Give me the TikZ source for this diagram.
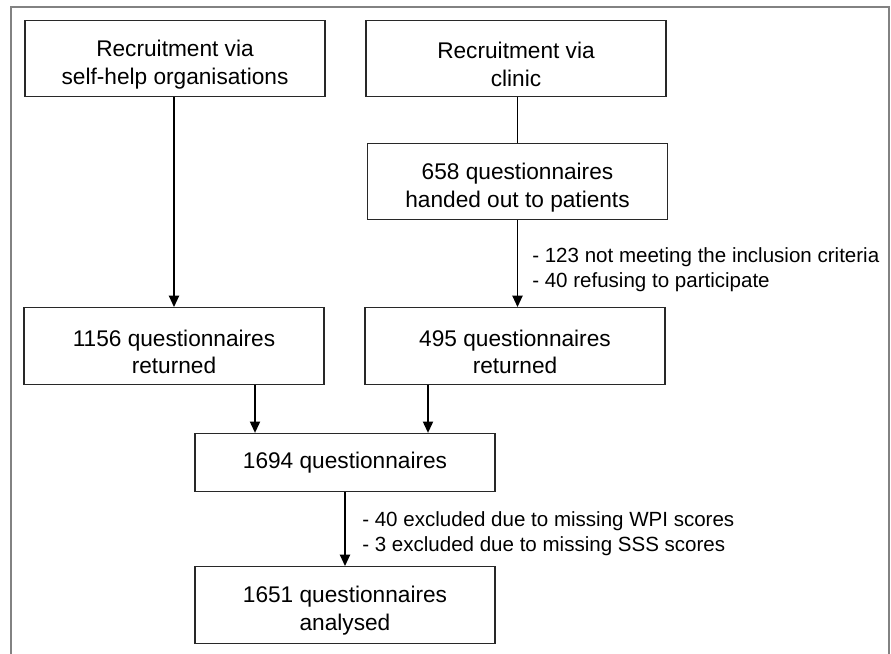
\documentclass[tikz,border=0pt]{standalone}
\usepackage{fontspec}
\setmainfont{Liberation Sans}
\usetikzlibrary{arrows.meta,calc}

% strut that pushes the two text lines down in their box
\newcommand{\topgap}{\rule{0pt}{21pt}}

\tikzset{
  flowbox/.style={draw={rgb,255:red,40;green,40;blue,40},line width=0.9pt,minimum width=225pt,align=center,inner sep=0pt,font=\fontsize{17}{20.8}\selectfont},
  tallbox/.style={flowbox,minimum height=57.5pt},
  flatbox/.style={flowbox,minimum height=43.5pt},
  note/.style={anchor=west,align=left,inner sep=0pt,font=\fontsize{15.4}{18.8}\selectfont},
  arr/.style={line width=1.4pt,-{Triangle[width=7.5pt,length=8.5pt]}},
  link/.style={line width=1.4pt}
}

\begin{document}
\begin{tikzpicture}[x=0.75pt,y=0.75pt,yscale=-1,xscale=1]
\useasboundingbox (0,0) rectangle (891,653);

%Shape: outer frame
\draw [color={rgb,255:red,130;green,130;blue,130},line width=0.9pt] (11,670) -- (11,7) -- (889,7) -- (889,670);

% Text Node
\node [tallbox] (viaself) at (175,58.5) {\topgap Recruitment via\\self-help organisations};
% Text Node
\node [tallbox] (viaclinic) at (516,58.5) {\topgap Recruitment via\\clinic};
% Text Node
\node [tallbox] (handed) at (517.5,181.5) {\topgap 658 questionnaires\\handed out to patients};
% Text Node
\node [tallbox] (ret1156) at (174,346) {\topgap 1156 questionnaires\\returned};
% Text Node
\node [tallbox] (ret495) at (515,346) {\topgap 495 questionnaires\\returned};
% Text Node
\node [flatbox] (q1694) at (345,462.5) {1694 questionnaires};
% Text Node
\node [tallbox] (q1651) at (345,605) {\topgap 1651 questionnaires\\analysed};

% Text Node
\node [note] (excl123) at (532,270) {- 123 not meeting the inclusion criteria\\- 40 refusing to participate};
% Text Node
\node [note] (excl40) at (362,534) {- 40 excluded due to missing WPI scores\\- 3 excluded due to missing SSS scores};

%Straight Lines
\coordinate (in1156) at ($(q1694.north)+(-90,0)$);
\coordinate (in495) at ($(q1694.north)+(83,0)$);
\draw [arr] (viaself.south -| ret1156.north) -- (ret1156.north);
\draw [link] (viaclinic.south -| handed.south) -- (handed.north);
\draw [arr] (handed.south) -- (handed.south |- ret495.north);
\draw [arr] (ret1156.south -| in1156) -- (in1156);
\draw [arr] (ret495.south -| in495) -- (in495);
\draw [arr] (q1694.south) -- (q1651.north);

\end{tikzpicture}
\end{document}
